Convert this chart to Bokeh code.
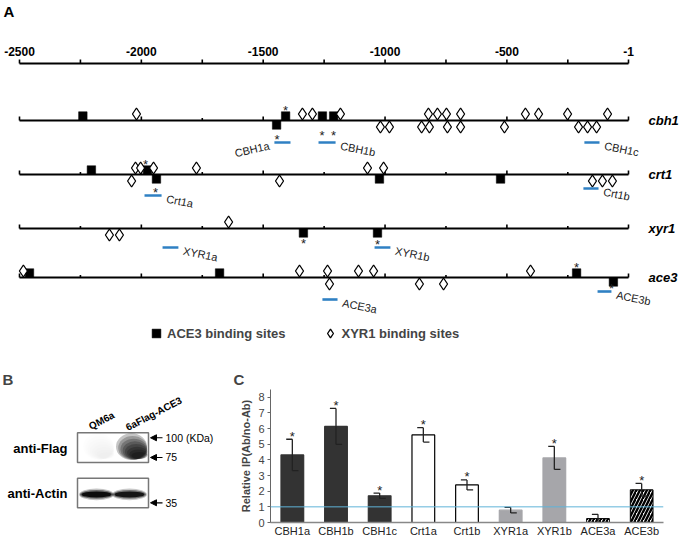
from bokeh.plotting import figure
from bokeh.layouts import column, row
from bokeh.models import (Range1d, FactorRange, ColumnDataSource, Legend, LegendItem,
                          Span, Arrow, NormalHead, FixedTicker)
from bokeh.core.properties import value
from bokeh.embed import file_html
from bokeh.resources import INLINE

FONT_NAME = "Liberation Sans"
FONT = value(FONT_NAME)

# ---------------- Panel A data (positions in bp upstream of ATG) ----------------
genes = ["cbh1", "crt1", "xyr1", "ace3"]
scale_ticks = [-2500, -2000, -1500, -1000, -500, -1]
scale_labels = ["-2500", "-2000", "-1500", "-1000", "-500", "-1"]
minor_ticks = [-2250, -1750, -1250, -750, -250]

# ACE3 binding sites: gene, position, strand (+1 drawn above, -1 below)
ace3_site_gene = ["cbh1", "cbh1", "cbh1", "cbh1", "cbh1",
                  "crt1", "crt1", "crt1", "crt1", "crt1",
                  "xyr1", "xyr1",
                  "ace3", "ace3", "ace3", "ace3"]
ace3_site_pos = [-2240, -1445, -1408, -1257, -1211,
                 -2205, -1975, -1938, -1023, -526,
                 -1335, -1031,
                 -2459, -1679, -214, -63]
ace3_site_strand = [1, -1, 1, 1, 1,
                    1, 1, -1, -1, -1,
                    -1, -1,
                    1, 1, 1, -1]

# XYR1 binding sites
xyr1_site_gene = (["cbh1"] * 12 + ["cbh1"] * 10 + ["crt1"] * 6 + ["crt1"] * 5
                  + ["xyr1"] + ["xyr1"] * 2 + ["ace3"] * 6 + ["ace3"] * 3)
xyr1_site_pos = [-2020, -1339, -1298, -1183, -822, -785, -748, -690, -424, -370, -251, -87,
                 -1019, -982, -850, -818, -744, -690, -510, -206, -169, -132,
                 -2024, -2003, -1950, -1774, -1072, -1006,
                 -2040, -1433, -149, -108, -67,
                 -1642,
                 -2131, -2090,
                 -2484, -1351, -1236, -1109, -1047, -403,
                 -1228, -859, -760]
xyr1_site_strand = ([1] * 12 + [-1] * 10 + [1] * 6 + [-1] * 5 + [1] + [-1] * 2
                    + [1] * 6 + [-1] * 3)

# significance asterisks on the map
star_gene = ["cbh1", "cbh1", "cbh1", "cbh1", "crt1", "crt1", "xyr1", "xyr1", "ace3", "ace3"]
star_pos = [-1408, -1259, -1211, -1443, -1983, -1942, -1335, -1031, -214, -71]
star_side = ["up", "down", "down", "probe", "up", "probe", "down", "probe", "up", "probe"]
star_probe = [None, None, None, "CBH1a", None, "Crt1a", None, "XYR1b", None, "ACE3b"]

# ChIP probes
probe_name = ["CBH1a", "CBH1b", "CBH1c", "Crt1a", "Crt1b", "XYR1a", "XYR1b", "ACE3a", "ACE3b"]
probe_gene = ["cbh1", "cbh1", "cbh1", "crt1", "crt1", "xyr1", "xyr1", "ace3", "ace3"]
probe_start = [-1454, -1273, -182, -1987, -186, -1913, -1043, -1257, -128]
probe_end = [-1388, -1203, -120, -1917, -124, -1848, -978, -1195, -71]

# ---------------- Panel B data ----------------
blot_lanes = ["QM6a", "6aFlag-ACE3"]
flag_signal = [0.04, 0.95]
actin_signal = [0.92, 0.85]
marker_labels = ["100 (KDa)", "75", "35"]

# ---------------- Panel C data ----------------
chip_targets = ["CBH1a", "CBH1b", "CBH1c", "Crt1a", "Crt1b", "XYR1a", "XYR1b", "ACE3a", "ACE3b"]
chip_group = ["cbh1", "cbh1", "cbh1", "crt1", "crt1", "xyr1", "xyr1", "ace3", "ace3"]
chip_mean = [4.32, 6.14, 1.71, 5.6, 2.4, 0.79, 4.13, 0.25, 2.09]
chip_err = [1.0, 1.15, 0.17, 0.46, 0.32, 0.18, 0.74, 0.27, 0.41]
chip_sig = [1, 1, 1, 1, 1, 0, 1, 0, 1]
y_ticks_c = [0, 1, 2, 3, 4, 5, 6, 7, 8]

# ================= layout constants =================
REF_L, REF_R = 19, 628              # pixel span of -2500 .. -1
BP_PER_PX = 2499 / (REF_R - REF_L)


def bp_at(ref_x):
    return -2500 + (ref_x - REF_L) * BP_PER_PX


ROW_Y = {"cbh1": 120, "crt1": 174, "xyr1": 228, "ace3": 277}
SCALE_Y = 63
PROBE_DY = {"CBH1a": 22, "CBH1b": 22, "CBH1c": 22, "Crt1a": 21, "Crt1b": 14,
            "XYR1a": 19, "XYR1b": 19, "ACE3a": 22, "ACE3b": 14}
BLUE = "#2f80c3"

# ================= Panel A =================
pa = figure(width=683, height=345, x_range=Range1d(bp_at(0), bp_at(683)),
            y_range=Range1d(345, 0), toolbar_location=None, output_backend="svg",
            min_border=0, x_axis_type=None, y_axis_type=None,
            outline_line_color=None, background_fill_color="white")
pa.grid.visible = False

pa.text(x=[bp_at(3)], y=[11], text=["A"], text_font=FONT, text_font_size="15px",
        text_font_style="bold", text_align="left", text_baseline="middle")

all_ticks = sorted(scale_ticks + minor_ticks)
# scale bar
pa.segment(x0=[scale_ticks[0]], x1=[scale_ticks[-1]], y0=[SCALE_Y], y1=[SCALE_Y],
           line_color="black", line_width=2.2)
pa.segment(x0=all_ticks, x1=all_ticks, y0=[SCALE_Y] * len(all_ticks),
           y1=[SCALE_Y - 4] * len(all_ticks), line_color="black", line_width=1.6)
pa.text(x=scale_ticks, y=[51] * len(scale_ticks), text=scale_labels,
        text_font=FONT, text_font_size="12px", text_font_style="bold",
        text_align="center", text_baseline="middle")

# promoter lines
for g in genes:
    y = ROW_Y[g]
    pa.segment(x0=[scale_ticks[0]], x1=[scale_ticks[-1]], y0=[y], y1=[y],
               line_color="black", line_width=2.2)
    hts = [4 if t in scale_ticks else 2.5 for t in all_ticks]
    pa.segment(x0=all_ticks, x1=all_ticks, y0=[y] * len(all_ticks),
               y1=[y - h for h in hts], line_color="black", line_width=1.6)
pa.text(x=[bp_at(648)] * 4, y=[ROW_Y[g] for g in genes], text=genes,
        text_font=FONT, text_font_size="13px", text_font_style="bold italic",
        text_align="left", text_baseline="middle")

# binding sites
sq_src = ColumnDataSource(dict(
    x=ace3_site_pos,
    y=[ROW_Y[g] + (-4.5 if s > 0 else 4.5) for g, s in zip(ace3_site_gene, ace3_site_strand)]))
dm_src = ColumnDataSource(dict(
    x=xyr1_site_pos,
    y=[ROW_Y[g] + (-6.5 if s > 0 else 6.5) for g, s in zip(xyr1_site_gene, xyr1_site_strand)]))
sq_r = pa.scatter("x", "y", source=sq_src, marker="square", size=8.5,
                  fill_color="black", line_color="black", line_width=0.5)
dm_r = pa.scatter("x", "y", source=dm_src, marker="diamond", size=12,
                  fill_color="white", line_color="black", line_width=1.3)

# probes
probe_y = [ROW_Y[g] + PROBE_DY[n] for g, n in zip(probe_gene, probe_name)]
pa.segment(x0=probe_start, x1=probe_end, y0=probe_y, y1=probe_y,
           line_color=BLUE, line_width=2.6)
lab_x = [s if n == "CBH1a" else e for n, s, e in zip(probe_name, probe_start, probe_end)]
lab_align = ["right" if n == "CBH1a" else "left" for n in probe_name]
lab_off = [-5 if n == "CBH1a" else 5 for n in probe_name]
lab_ang = [0.22 if n == "CBH1a" else -0.2 for n in probe_name]
pa.text(x=lab_x, y=[v + 3 for v in probe_y], text=probe_name, x_offset=lab_off,
        angle=lab_ang, text_align=lab_align, text_baseline="middle",
        text_font=FONT, text_font_size="11px", text_color="#222222")

# stars
pdict = dict(zip(probe_name, probe_y))
star_y = []
for g, side, pr in zip(star_gene, star_side, star_probe):
    if side == "up":
        star_y.append(ROW_Y[g] - 13)
    elif side == "down":
        star_y.append(ROW_Y[g] + 12)
    else:
        star_y.append(pdict[pr] - 6)
pa.text(x=star_pos, y=star_y, text=["*"] * len(star_pos), text_align="center",
        text_baseline="middle", y_offset=3,
        text_font=FONT, text_font_size="13px", text_color="#222222")

legend = Legend(items=[LegendItem(label="ACE3 binding sites", renderers=[sq_r]),
                       LegendItem(label="XYR1 binding sites", renderers=[dm_r])],
                orientation="horizontal", location=(145, 1),
                border_line_color=None, background_fill_alpha=0,
                label_text_font=FONT_NAME, label_text_font_style="bold",
                label_text_font_size="13px", glyph_width=22, glyph_height=22,
                label_height=22, padding=0, margin=0, spacing=34, label_standoff=-3)
pa.add_layout(legend)

# ================= Panel B =================
# its frame is aligned with panel C's frame by the row layout
pb = figure(width=230, height=194, x_range=Range1d(0, 230), y_range=Range1d(524, 389),
            toolbar_location=None, output_backend="svg", min_border_left=0,
            min_border_right=0, min_border_top=44, min_border_bottom=15,
            x_axis_type=None, y_axis_type=None, outline_line_color=None, title="B")
pb.grid.visible = False
pb.title.align = "left"
pb.title.offset = 2
pb.title.standoff = 3
pb.title.text_font = FONT_NAME
pb.title.text_font_size = "15px"
pb.title.text_font_style = "bold"

LANE_X = [96, 129]
BOX_L, BOX_R = 77, 148
FLAG_T, FLAG_B = 433, 463
ACT_T, ACT_B = 479, 509

pb.quad(left=[BOX_L, BOX_L], right=[BOX_R, BOX_R], top=[FLAG_T, ACT_T],
        bottom=[FLAG_B, ACT_B], fill_color="white", line_color="#777777", line_width=1.5)
# Flag bands: soft smear, darkest at the bottom right of the lane
n_layers = 8
for lx, s in zip(LANE_X, flag_signal):
    fx, fy, fw, fh = [], [], [], []
    for k in range(n_layers):
        t = k / (n_layers - 1)
        fx.append(lx + 2 + 8 * t)
        fy.append(447 + 9 * t)
        fw.append(31 - 15 * t)
        fh.append(27 - 20 * t)
    pb.ellipse(x=fx, y=fy, width=fw, height=fh, fill_color="black", line_color=None,
               fill_alpha=0.24 * s)
# Actin bands
for lx, s in zip(LANE_X, actin_signal):
    pb.ellipse(x=[lx, lx, lx], y=[495.5, 495.5, 495.5], width=[35, 33, 30],
               height=[12, 9, 6], fill_color="black", line_color=None,
               fill_alpha=[0.25 * s, 0.5 * s, 0.95 * s])

pb.text(x=[89, 126], y=[427, 428], text=blot_lanes, angle=0.48, text_align="left",
        text_baseline="alphabetic", text_font=FONT, text_font_size="10px",
        text_font_style="bold")
pb.text(x=[67, 67], y=[449, 495],
        text=["anti-Flag", "anti-Actin"], text_align="right", text_baseline="middle",
        text_font=FONT, text_font_size="13px", text_font_style="bold")
MARK_Y = [438, 458, 504]
arr_src = ColumnDataSource(dict(x0=[162] * 3, x1=[150] * 3, y=MARK_Y))
pb.add_layout(Arrow(end=NormalHead(size=6, fill_color="black", line_color="black"),
                    x_start="x0", y_start="y", x_end="x1", y_end="y",
                    source=arr_src, line_width=1.2, line_color="black"))
pb.text(x=[165] * 3, y=MARK_Y, text=marker_labels, text_align="left",
        text_baseline="middle", text_font=FONT, text_font_size="10.5px")

# ================= Panel C =================
pc = figure(width=453, height=194, x_range=FactorRange(*chip_targets, range_padding=0),
            y_range=Range1d(0, 8.5), toolbar_location=None, output_backend="svg",
            min_border_left=40, min_border_right=20, min_border_top=44,
            min_border_bottom=15, outline_line_color=None, title="C")
pc.grid.visible = False
pc.title.align = "left"
pc.title.offset = -37
pc.title.standoff = 3
pc.title.text_font = FONT_NAME
pc.title.text_font_size = "15px"
pc.title.text_font_style = "bold"

style = {"cbh1": ("#333333", "#333333", None),
         "crt1": ("white", "black", None),
         "xyr1": ("#a6a6aa", "#a6a6aa", None),
         "ace3": ("white", "black", "/")}
plain = [i for i, g in enumerate(chip_group) if style[g][2] is None]
hatched = [i for i, g in enumerate(chip_group) if style[g][2] is not None]
src_p = ColumnDataSource(dict(x=[chip_targets[i] for i in plain],
                              top=[chip_mean[i] for i in plain],
                              fc=[style[chip_group[i]][0] for i in plain],
                              lc=[style[chip_group[i]][1] for i in plain]))
pc.vbar(x="x", top="top", width=0.52, source=src_p, fill_color="fc", line_color="lc",
        line_width=1.2)
src_h = ColumnDataSource(dict(x=[chip_targets[i] for i in hatched],
                              top=[chip_mean[i] for i in hatched]))
pc.vbar(x="x", top="top", width=0.52, source=src_h, fill_color="white",
        line_color="black", line_width=1, hatch_pattern="/", hatch_color="black",
        hatch_weight=2.4, hatch_scale=7)

upper = [m + e for m, e in zip(chip_mean, chip_err)]
lower = [m - e for m, e in zip(chip_mean, chip_err)]
pc.segment(x0=chip_targets, x1=chip_targets, y0=lower, y1=upper,
           line_color="#222222", line_width=1.3)
pc.segment(x0=[(t, -0.14) for t in chip_targets], x1=chip_targets, y0=upper, y1=upper,
           line_color="#222222", line_width=1.3)
pc.segment(x0=chip_targets, x1=[(t, 0.14) for t in chip_targets], y0=lower, y1=lower,
           line_color="#222222", line_width=1.3)
sig_t = [t for t, s in zip(chip_targets, chip_sig) if s]
sig_y = [u for u, s in zip(upper, chip_sig) if s]
pc.text(x=sig_t, y=sig_y, text=["*"] * len(sig_t), text_align="center",
        text_baseline="alphabetic", y_offset=-3, text_font=FONT, text_font_size="13px",
        text_color="#222222")

pc.add_layout(Span(location=1, dimension="width", line_color="#5fb3d8", line_width=1))

pc.yaxis.ticker = FixedTicker(ticks=y_ticks_c)
pc.yaxis.axis_label = "Relative IP(Ab/no-Ab)"
pc.yaxis.axis_label_text_font = FONT_NAME
pc.yaxis.axis_label_text_font_style = "bold"
pc.yaxis.axis_label_text_font_size = "11px"
pc.yaxis.axis_label_standoff = 3
pc.yaxis.major_label_text_font = FONT_NAME
pc.yaxis.major_label_text_font_size = "11px"
pc.yaxis.major_label_standoff = 3
pc.yaxis.major_tick_out = 3
pc.yaxis.major_tick_in = 0
pc.yaxis.minor_tick_line_color = None
pc.yaxis.axis_line_color = "#666666"
pc.yaxis.major_tick_line_color = "#666666"
pc.xaxis.major_label_text_font = FONT_NAME
pc.xaxis.major_label_text_font_size = "11px"
pc.xaxis.major_label_text_color = "#222222"
pc.xaxis.major_label_standoff = 2
pc.xaxis.major_tick_out = 0
pc.xaxis.major_tick_in = 0
pc.xaxis.axis_line_color = "#888888"
pc.xaxis.axis_line_width = 1.5

layout = column(pa, row(pb, pc))
open("out.html", "w").write(file_html(layout, INLINE))
